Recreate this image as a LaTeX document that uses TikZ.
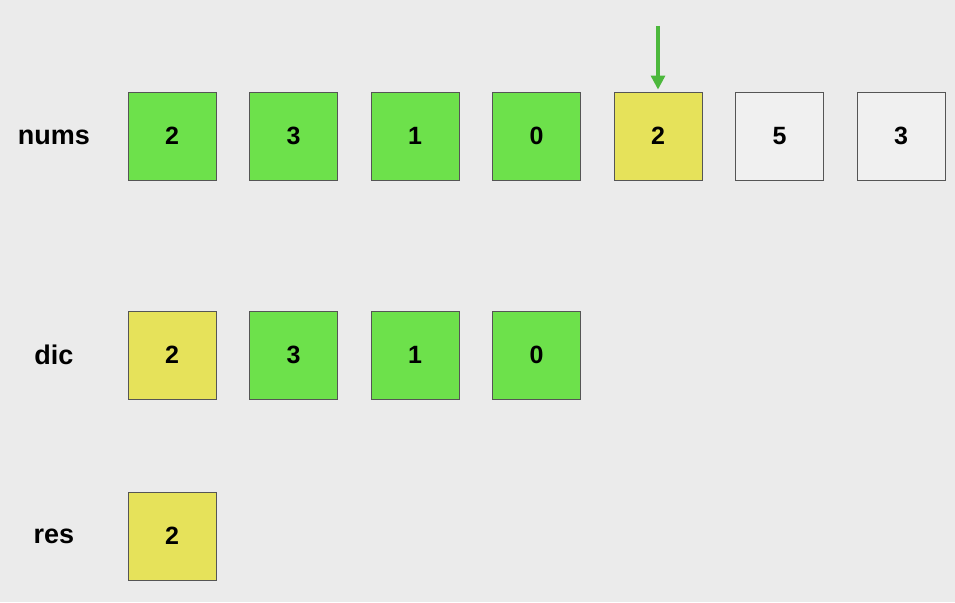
\documentclass[tikz,border=0pt]{standalone}
\usepackage{fontspec}
\setmainfont{Liberation Sans}
\usetikzlibrary{arrows.meta}

\definecolor{bggray}{HTML}{EBEBEB}
\definecolor{cellgreen}{HTML}{6DE14B}
\definecolor{cellyellow}{HTML}{E6E25A}
\definecolor{cellwhite}{HTML}{F0F0F0}
\definecolor{ptrgreen}{HTML}{4CB83C}
\definecolor{edgegray}{HTML}{555555}

\tikzset{
	cell/.style={draw=edgegray, line width=0.9pt, minimum size=88pt, inner sep=0pt, font=\fontsize{25}{25}\selectfont\bfseries},
	rowlabel/.style={font=\fontsize{27}{27}\selectfont\bfseries}
}

\begin{document}
\begin{tikzpicture}[x=1pt,y=-1pt]
		\fill[bggray] (0,0) rectangle (955,602);
		\useasboundingbox (0,0) rectangle (955,602);

		\node[rowlabel] (numslabel) at (54,137.5) {nums};
		\node[rowlabel] (diclabel) at (54,355) {dic};
		\node[rowlabel] (reslabel) at (54,536) {res};

		\foreach \v/\c [count=\i] in {2/cellgreen, 3/cellgreen, 1/cellgreen, 0/cellgreen, 2/cellyellow, 5/cellwhite, 3/cellwhite} {\node[cell,fill=\c] (nums\i) at ({172+121.5*(\i-1)},136) {\v};}
		\foreach \v/\c [count=\i] in {2/cellyellow, 3/cellgreen, 1/cellgreen, 0/cellgreen} {\node[cell,fill=\c] (dic\i) at ({172+121.5*(\i-1)},355) {\v};}
		\node[cell,fill=cellyellow] (res1) at (172,536) {2};

		\coordinate (ptrtop) at (658,26);
		\draw[ptrgreen,line width=3.2pt,-{Triangle[length=14pt,width=14pt]}] (ptrtop) -- ([yshift=2pt]nums5.north);
    \end{tikzpicture}
\end{document}
